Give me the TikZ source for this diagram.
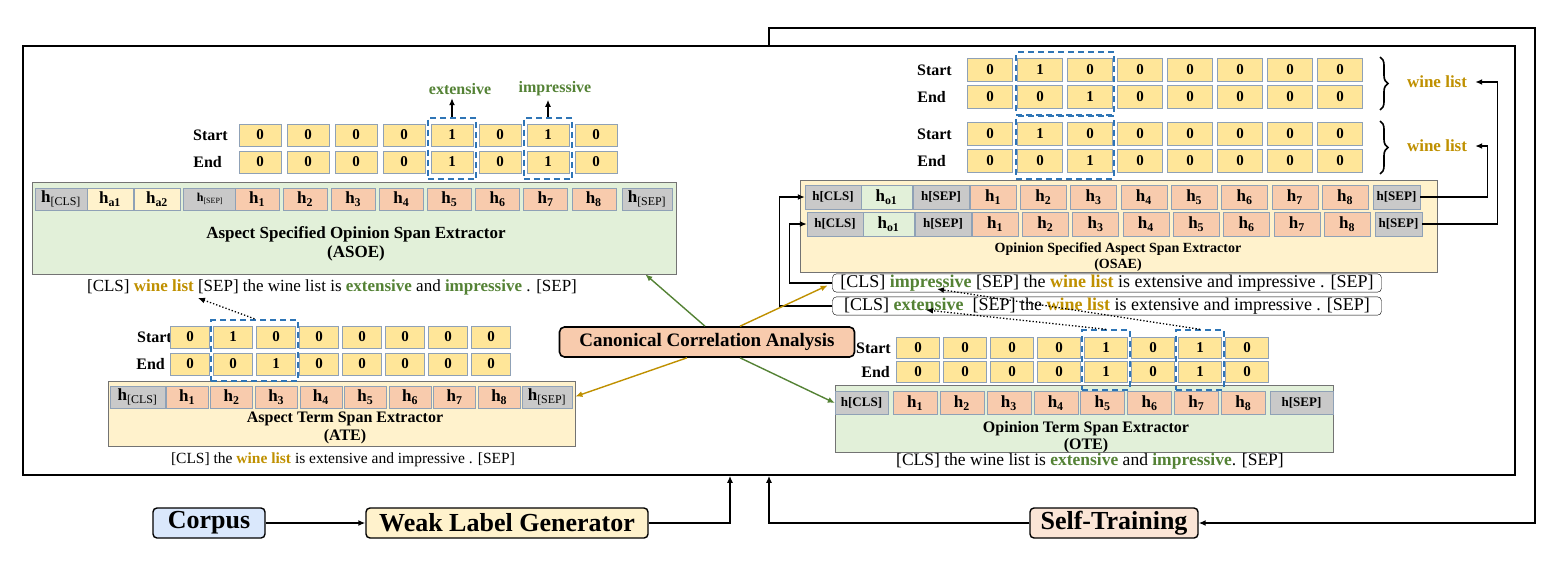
\documentclass[tikz,border=0pt]{standalone}
\usepackage{fontspec}
\setmainfont{Liberation Serif}
\usetikzlibrary{arrows.meta,fit,calc,decorations.pathreplacing}

\definecolor{cellyel}{HTML}{FFE699}
\definecolor{edgegray}{HTML}{8FA1B6}
\definecolor{tokorange}{HTML}{F8CBAD}
\definecolor{tokgray}{HTML}{C9C9C9}
\definecolor{panelgreen}{HTML}{E2F0D9}
\definecolor{panelyel}{HTML}{FFF2CC}
\definecolor{corpusblue}{HTML}{DAE8FC}
\definecolor{stpink}{HTML}{FBE5D6}
\definecolor{wlgold}{HTML}{BF9000}
\definecolor{opgreen}{HTML}{548235}
\definecolor{spanblue}{HTML}{2E75B6}

\newcommand\fsz[1]{\fontsize{#1}{#1}\selectfont}
\newcommand\htok[1]{\textbf{h}\textsubscript{\textbf{#1}}}
\newcommand\htokr[1]{\textbf{h}\textsubscript{#1}}

\tikzset{
  cell/.style={draw=edgegray, fill=cellyel, inner sep=0pt, minimum height=22pt, font=\bfseries\fsz{15}},
  tok/.style={draw=edgegray, fill=tokorange, inner sep=0pt, minimum height=22pt, font=\fsz{17}},
  gtok/.style={tok, fill=tokgray},
  panel/.style={draw=black!55, line width=0.8pt, inner sep=0pt},
  rowlbl/.style={anchor=east, font=\bfseries\fsz{16}, inner sep=0pt},
  spanbox/.style={draw=spanblue, line width=2pt, dash pattern=on 6pt off 4pt, inner xsep=2pt, inner ysep=6pt},
  ttl/.style={align=center, font=\bfseries\fsz{17}},
  sent/.style={font=\fsz{17}, inner sep=1pt},
  arr/.style={-{Latex[length=7pt,width=6pt]}},
  dots/.style={arr, dotted, line width=1.3pt},
  link/.style={arr, line width=1.4pt},
  stage/.style={draw, line width=1.4pt, rounded corners=4pt, minimum height=30pt, inner sep=1pt, font=\bfseries\fsz{26}},
}

\begin{document}
\begin{tikzpicture}[x=1pt, y=-1pt]
  \useasboundingbox (0,0) rectangle (1558,576);
  \node[draw, line width=1.6pt, minimum width=1492pt, minimum height=429pt, inner sep=0pt] (frame) at (769,260.5) {};

  \node[panel, fill=panelgreen, minimum width=644pt, minimum height=92pt] (asoe) at (354,228) {};
  \node[gtok, minimum width=52pt] (asoeCls) at (61,199) {\htokr{[CLS]}};
  \node[tok, fill=panelyel, minimum width=46pt] (asoeA1) at (110,199) {\htok{a1}};
  \node[tok, fill=panelyel, minimum width=46pt] (asoeA2) at (157,199) {\htok{a2}};
  \node[gtok, minimum width=54pt, font=\fsz{12}] (asoeSep) at (210,199) {\htokr{[SEP]}};
  \foreach \i in {1,...,8}
    \node[tok, minimum width=44pt] (asoeT\i) at ({257+48.1*(\i-1)},199) {\htok{\i}};
  \node[gtok, minimum width=50pt] (asoeSepE) at (647,199) {\htokr{[SEP]}};
  \node[ttl] (asoeTtl) at (356,244) {Aspect Specified Opinion Span Extractor\\[2pt](ASOE)};
  \node[rowlbl] (asoeStart) at (228,135) {Start};
  \node[rowlbl] (asoeEnd) at (222,162) {End};
  \foreach \v [count=\i] in {0,0,0,0,1,0,1,0} {
    \node[cell, minimum width=42pt] (asoeS\i) at ({260+48*(\i-1)},135) {\v};
    \node[cell, minimum width=42pt] (asoeE\i) at ({260+48*(\i-1)},162) {\v};
  }
  \node[spanbox, inner xsep=3pt, fit=(asoeS5)(asoeE5)] (asoeD5) {};
  \node[spanbox, inner xsep=3pt, fit=(asoeS7)(asoeE7)] (asoeD7) {};
  \node[font=\bfseries\fsz{16}, text=opgreen] (extLbl) at (460,89) {extensive};
  \node[font=\bfseries\fsz{16}, text=opgreen] (impLbl) at (555,89) {impressive};
  \draw[link] (asoeD5.north) -- (asoeD5.north |- extLbl.south);
  \draw[link] (asoeD7.north) -- (asoeD7.north |- impLbl.south);
  \node[sent] (asoeSent) at (332,287) {[CLS] \textcolor{wlgold}{\textbf{wine list}} [SEP] the wine list is \textcolor{opgreen}{\textbf{extensive}} and \textcolor{opgreen}{\textbf{impressive}} . [SEP]};
  \coordinate (asoeWL) at (198,298);

  \node[panel, fill=panelyel, minimum width=467pt, minimum height=65pt] (ate) at (341.5,413.5) {};
  \node[gtok, minimum width=55pt] (ateCls) at (137.5,397) {\htokr{[CLS]}};
  \foreach \i in {1,...,8}
    \node[tok, minimum width=42pt] (ateT\i) at ({187+44.6*(\i-1)},397) {\htok{\i}};
  \node[gtok, minimum width=50pt] (ateSep) at (547,397) {\htokr{[SEP]}};
  \node[ttl, font=\bfseries\fsz{16}] (ateTtl) at (345,428) {Aspect Term Span Extractor\\[2pt](ATE)};
  \node[rowlbl] (ateStart) at (172,337) {Start};
  \node[rowlbl] (ateEnd) at (165,364) {End};
  \foreach \v [count=\i] in {0,1,0,0,0,0,0,0}
    \node[cell, minimum width=39pt] (ateS\i) at ({190+43*(\i-1)},337) {\v};
  \foreach \v [count=\i] in {0,0,1,0,0,0,0,0}
    \node[cell, minimum width=39pt] (ateE\i) at ({190+43*(\i-1)},364) {\v};
  \node[spanbox, fit=(ateS2)(ateE3)] (ateD) {};
  \node[sent, font=\fsz{15.5}] (ateSent) at (343,460) {[CLS] the \textcolor{wlgold}{\textbf{wine list}} is extensive and impressive . [SEP]};
  \draw[dots] (ateD.north) -- (asoeWL);

  \node[panel, fill=panelyel, minimum width=637pt, minimum height=92pt] (osae) at (1118.5,226) {};
  \foreach \rw/\ry/\dx in {1/197/0, 2/224/2} {
    \node[gtok, minimum width=56pt, minimum height=24pt, font=\bfseries\fsz{13}] (osa\rw Cls) at (833+\dx,\ry) {h[CLS]};
    \node[tok, fill=panelgreen, minimum width=51pt, minimum height=24pt] (osa\rw O) at (886.5+\dx,\ry) {\htok{o1}};
    \node[gtok, minimum width=56pt, minimum height=24pt, font=\bfseries\fsz{13}] (osa\rw Sep) at (941+\dx,\ry) {h[SEP]};
    \foreach \i in {1,...,8}
      \node[tok, minimum width=46pt, minimum height=24pt] (osa\rw T\i) at ({993+\dx+50.3*(\i-1)},\ry) {\htok{\i}};
    \node[gtok, minimum width=47pt, minimum height=24pt, font=\bfseries\fsz{13}] (osa\rw SepE) at (1396.5+\dx,\ry) {h[SEP]};
  }
  \node[ttl, font=\bfseries\fsz{14}] (osaeTtl) at (1118,257) {Opinion Specified Aspect Span Extractor\\[2pt](OSAE)};
  \foreach \g/\gy in {1/70, 2/134} {
    \node[rowlbl] (osa\g Start) at (952,\gy) {Start};
    \node[rowlbl] (osa\g End) at (946,\gy+27) {End};
    \foreach \v [count=\i] in {0,1,0,0,0,0,0,0}
      \node[cell, minimum width=45pt, minimum height=23pt] (osa\g S\i) at ({990+50*(\i-1)},\gy) {\v};
    \foreach \v [count=\i] in {0,0,1,0,0,0,0,0}
      \node[cell, minimum width=45pt, minimum height=23pt] (osa\g E\i) at ({990+50*(\i-1)},\gy+27) {\v};
    \node[spanbox, inner xsep=1pt, inner ysep=6pt, fit=(osa\g S2)(osa\g E3)] (osa\g D) {};
    \draw[decorate, decoration={brace, amplitude=8pt}, line width=1.6pt] (1380,\gy-13) -- (1380,\gy+40);
    \node[font=\bfseries\fsz{17}, text=wlgold, inner xsep=8pt] (wl\g) at (1437,\gy+12) {wine list};
  }
  \draw[link] (osa1SepE.east) -- ++(67,0) |- (wl2.east);
  \draw[link] (osa2SepE.east) -- ++(75,0) |- (wl1.east);

  \node[sent, draw, rounded corners=4pt, minimum width=549pt, font=\fsz{18}] (impSent) at (1107,283) {[CLS] \textcolor{opgreen}{\textbf{impressive}} [SEP] the \textcolor{wlgold}{\textbf{wine list}} is extensive and impressive . [SEP]};
  \node[sent, draw, rounded corners=4pt, minimum width=549pt, font=\fsz{18}] (extSent) at (1107,306) {[CLS] \textcolor{opgreen}{\textbf{extensive}}\ \ [SEP] the \textcolor{wlgold}{\textbf{wine list}} is extensive and impressive . [SEP]};
  \draw[link] (extSent.west) -- ++(-53,0) |- (osa1Cls.west);
  \draw[link] (impSent.west) -- ++(-43,0) |- (osa2Cls.west);
  \coordinate (extWord) at (926,310);
  \coordinate (impWord) at (937,289);

  \node[panel, fill=panelgreen, minimum width=498pt, minimum height=67pt] (ote) at (1084,418.5) {};
  \node[gtok, minimum width=53pt, minimum height=23pt, font=\bfseries\fsz{13}] (oteCls) at (861.5,403) {h[CLS]};
  \foreach \i in {1,...,8}
    \node[tok, minimum width=44pt, minimum height=23pt] (oteT\i) at ({915+46.9*(\i-1)},403) {\htok{\i}};
  \node[gtok, minimum width=63pt, minimum height=23pt, font=\bfseries\fsz{13}] (oteSep) at (1301.5,403) {h[SEP]};
  \node[ttl, font=\bfseries\fsz{16}] (oteTtl) at (1086,437) {Opinion Term Span Extractor\\[1pt](OTE)};
  \node[rowlbl] (oteStart) at (891,348) {Start};
  \node[rowlbl] (oteEnd) at (890,372) {End};
  \foreach \v [count=\i] in {0,0,0,0,1,0,1,0} {
    \node[cell, minimum width=43pt, minimum height=21pt] (oteS\i) at ({918+47*(\i-1)},348) {\v};
    \node[cell, minimum width=43pt, minimum height=21pt] (oteE\i) at ({918+47*(\i-1)},372) {\v};
  }
  \node[spanbox, inner ysep=7pt, fit=(oteS5)(oteE5)] (oteD5) {};
  \node[spanbox, inner ysep=7pt, fit=(oteS7)(oteE7)] (oteD7) {};
  \node[sent, font=\fsz{17.5}] (oteSent) at (1090,461) {[CLS] the wine list is \textcolor{opgreen}{\textbf{extensive}} and \textcolor{opgreen}{\textbf{impressive}}. [SEP]};
  \draw[dots] (oteD5.north) -- (extWord);
  \draw[dots] (oteD7.north) -- (impWord);

  \node[draw, line width=1.6pt, rounded corners=5pt, fill=tokorange, minimum width=295pt, minimum height=30pt, inner sep=1pt, font=\bfseries\fsz{19}] (cca) at (707,342) {Canonical Correlation Analysis};
  \draw[link, opgreen] ([xshift=-2pt]cca.north) -- ([xshift=-31pt]asoe.south east);
  \draw[link, wlgold] ([xshift=33pt]cca.north) -- ([xshift=28pt,yshift=-13pt]osae.south west);
  \draw[link, wlgold] ([xshift=-20pt]cca.south) -- ([yshift=17pt]ate.east);
  \draw[link, opgreen] ([xshift=33pt]cca.south) -- (oteCls.west);

  \node[stage, fill=corpusblue, minimum width=112pt] (corpus) at (209,523) {Corpus};
  \node[stage, fill=panelyel, minimum width=282pt] (wlg) at (507,523) {Weak Label Generator};
  \node[stage, fill=stpink, minimum width=168pt] (st) at (1114,523) {Self-Training};
  \coordinate (loopTR) at (1535,28);
  \draw[link] (corpus) -- (wlg);
  \draw[link] (wlg.east) -| ([xshift=-39pt]frame.south);
  \draw[link] (st.west) -| (frame.south);
  \draw[link] (frame.north) |- (loopTR) |- (st.east);
\end{tikzpicture}
\end{document}
